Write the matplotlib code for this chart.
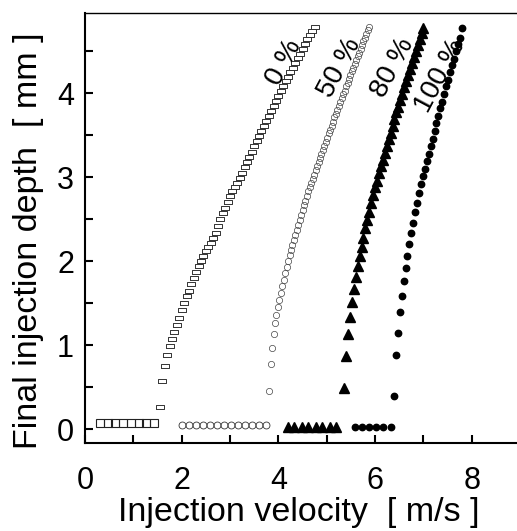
import matplotlib
matplotlib.use("Agg")
import matplotlib.pyplot as plt

plt.rcParams['font.family'] = ['Liberation Sans', 'DejaVu Sans']

# 0 % series: flat part at the bottom, then the rising part
flat0_x = [0.31, 0.47, 0.63, 0.79, 0.95, 1.11, 1.27, 1.43]
flat0_y = [0.07, 0.07, 0.07, 0.07, 0.07, 0.07, 0.07, 0.07]
rise0_x = [1.56, 1.60, 1.65, 1.70, 1.75, 1.80, 1.85, 1.90, 1.95, 2.00,
           2.05, 2.10, 2.15, 2.20, 2.25, 2.30, 2.35, 2.40, 2.45, 2.50,
           2.55, 2.60, 2.65, 2.70, 2.75, 2.80, 2.85, 2.90, 2.95, 3.00,
           3.05, 3.10, 3.15, 3.20, 3.25, 3.30, 3.35, 3.40, 3.45, 3.50,
           3.55, 3.60, 3.65, 3.70, 3.75, 3.80, 3.85, 3.90, 3.95, 4.00,
           4.05, 4.10, 4.15, 4.20, 4.25, 4.30, 4.35, 4.40, 4.45, 4.50,
           4.55, 4.60, 4.65, 4.70, 4.75]
rise0_y = [0.27, 0.57, 0.75, 0.88, 0.99, 1.08, 1.16, 1.24, 1.32, 1.42,
           1.50, 1.58, 1.65, 1.73, 1.80, 1.87, 1.94, 2.00, 2.06, 2.12,
           2.17, 2.22, 2.28, 2.34, 2.42, 2.50, 2.57, 2.63, 2.70, 2.77,
           2.83, 2.88, 2.93, 2.99, 3.05, 3.12, 3.18, 3.24, 3.30, 3.37,
           3.43, 3.49, 3.55, 3.61, 3.67, 3.73, 3.79, 3.85, 3.91, 3.97,
           4.03, 4.08, 4.14, 4.19, 4.25, 4.30, 4.36, 4.42, 4.47, 4.53,
           4.58, 4.64, 4.69, 4.74, 4.79]

# 50 %
flat50_x = [2.00, 2.15, 2.29, 2.44, 2.58, 2.73, 2.87, 3.02, 3.17, 3.31, 3.46, 3.60, 3.75]
flat50_y = [0.05, 0.05, 0.05, 0.05, 0.05, 0.05, 0.05, 0.05, 0.05, 0.05, 0.05, 0.05, 0.05]
rise50_x = [3.81, 3.84, 3.87, 3.90, 3.93, 3.96, 3.99, 4.02, 4.05, 4.08,
            4.11, 4.14, 4.17, 4.20, 4.23, 4.26, 4.29, 4.32, 4.35, 4.38,
            4.41, 4.44, 4.47, 4.50, 4.53, 4.56, 4.59, 4.62, 4.65, 4.68,
            4.71, 4.74, 4.77, 4.80, 4.83, 4.86, 4.89, 4.92, 4.95, 4.98,
            5.01, 5.04, 5.07, 5.10, 5.13, 5.16, 5.19, 5.22, 5.25, 5.28,
            5.31, 5.34, 5.37, 5.40, 5.43, 5.46, 5.49, 5.52, 5.55, 5.58,
            5.61, 5.64, 5.67, 5.70, 5.73, 5.76, 5.79, 5.82, 5.85, 5.88]
rise50_y = [0.46, 0.78, 0.97, 1.13, 1.26, 1.36, 1.45, 1.54, 1.62, 1.70,
            1.78, 1.86, 1.93, 2.00, 2.07, 2.13, 2.19, 2.25, 2.31, 2.37,
            2.43, 2.49, 2.55, 2.61, 2.67, 2.72, 2.78, 2.83, 2.88, 2.93,
            2.98, 3.03, 3.08, 3.13, 3.18, 3.23, 3.27, 3.32, 3.37, 3.42,
            3.47, 3.52, 3.56, 3.61, 3.66, 3.71, 3.75, 3.80, 3.85, 3.89,
            3.94, 3.99, 4.03, 4.08, 4.12, 4.17, 4.21, 4.26, 4.30, 4.35,
            4.39, 4.44, 4.48, 4.53, 4.57, 4.62, 4.66, 4.70, 4.75, 4.79]

# 80 %
flat80_x = [4.19, 4.33, 4.48, 4.62, 4.77, 4.91, 5.06, 5.20]
flat80_y = [0.03, 0.03, 0.03, 0.03, 0.03, 0.03, 0.03, 0.03]
rise80_x = [5.36, 5.40, 5.44, 5.48, 5.52, 5.56, 5.60, 5.64, 5.68, 5.72,
            5.76, 5.80, 5.84, 5.88, 5.92, 5.96, 6.00, 6.04, 6.08, 6.12,
            6.16, 6.20, 6.24, 6.28, 6.32, 6.36, 6.40, 6.44, 6.48, 6.52,
            6.56, 6.60, 6.64, 6.68, 6.72, 6.76, 6.80, 6.84, 6.88, 6.92,
            6.96, 7.00]
rise80_y = [0.49, 0.87, 1.13, 1.34, 1.51, 1.67, 1.81, 1.94, 2.06, 2.17,
            2.28, 2.39, 2.49, 2.59, 2.69, 2.79, 2.88, 2.96, 3.05, 3.13,
            3.21, 3.29, 3.37, 3.45, 3.53, 3.61, 3.69, 3.77, 3.84, 3.92,
            3.99, 4.07, 4.14, 4.22, 4.29, 4.36, 4.43, 4.50, 4.57, 4.64,
            4.71, 4.78]

# 100 %
flat100_x = [5.58, 5.73, 5.88, 6.02, 6.17, 6.32]
flat100_y = [0.03, 0.03, 0.03, 0.03, 0.03, 0.03]
rise100_x = [6.39, 6.43, 6.47, 6.51, 6.55, 6.59, 6.63, 6.67, 6.71, 6.75,
             6.79, 6.83, 6.87, 6.91, 6.95, 6.99, 7.03, 7.07, 7.11, 7.15,
             7.19, 7.23, 7.27, 7.31, 7.35, 7.39, 7.43, 7.47, 7.51, 7.55,
             7.59, 7.63, 7.67, 7.71, 7.75, 7.80]
rise100_y = [0.40, 0.88, 1.15, 1.39, 1.58, 1.77, 1.92, 2.06, 2.21, 2.33,
             2.46, 2.58, 2.69, 2.81, 2.92, 3.01, 3.10, 3.19, 3.28, 3.37,
             3.46, 3.55, 3.64, 3.73, 3.82, 3.90, 3.99, 4.08, 4.16, 4.25,
             4.33, 4.41, 4.50, 4.58, 4.66, 4.78]

labels = ['0 %', '50 %', '80 %', '100 %']
label_x = [4.12, 5.27, 6.36, 7.34]
label_y = [4.37, 4.30, 4.30, 4.20]

fig = plt.figure(figsize=(5.17, 5.31), dpi=100)
ax = fig.add_axes([85 / 517, 1 - 442.7 / 531, 432 / 517, 429.4 / 531])

# thin wide rectangle for the rising 0 % points
rect = [(-1, -0.38), (1, -0.38), (1, 0.38), (-1, 0.38), (-1, -0.38)]

ax.plot(flat0_x, flat0_y, 's', ms=5.6, mfc='none', mec='#222222', mew=0.8)
ax.plot(rise0_x, rise0_y, marker=rect, ls='none', ms=6.0, mfc='none', mec='#333333', mew=0.7)

ax.plot(flat50_x, flat50_y, 'o', ms=5.0, mfc='none', mec='#333333', mew=0.6)
ax.plot(rise50_x, rise50_y, 'o', ms=4.5, mfc='none', mec='#444444', mew=0.5)

ax.plot(flat80_x, flat80_y, '^', ms=6.5, color='black')
ax.plot(rise80_x, rise80_y, '^', ms=7.0, color='black')

ax.plot(flat100_x, flat100_y, 'o', ms=4.6, color='black')
ax.plot(rise100_x, rise100_y, 'o', ms=4.6, color='black')

for t, lx, ly in zip(labels, label_x, label_y):
    ax.text(lx, ly, t, fontsize=20, rotation=62, ha='center', va='center',
            rotation_mode='anchor')

ax.set_xlim(0, 8.935)
ax.set_ylim(-0.16, 4.95)
ax.set_xticks([0, 2, 4, 6, 8])
ax.set_xticks([1, 3, 5, 7], minor=True)
ax.set_yticks([0, 1, 2, 3, 4])
ax.set_yticks([0.5, 1.5, 2.5, 3.5, 4.5], minor=True)
ax.tick_params(which='both', direction='in', length=6, width=1.5, top=False, right=False)
ax.tick_params(axis='x', which='major', labelsize=22, pad=17)
ax.tick_params(axis='y', which='major', labelsize=22, pad=8)

ax.spines['right'].set_visible(False)
ax.spines['left'].set_linewidth(1.5)
ax.spines['bottom'].set_linewidth(1.5)
ax.spines['top'].set_linewidth(1.0)

ax.set_xlabel('Injection velocity  [ m/s ]', fontsize=24.5)
ax.set_ylabel('Final injection depth  [ mm ]', fontsize=24.5)
ax.xaxis.set_label_coords(0.494, -0.127)
ax.yaxis.set_label_coords(-0.095, 0.47)

fig.savefig('out.png', dpi=100)
